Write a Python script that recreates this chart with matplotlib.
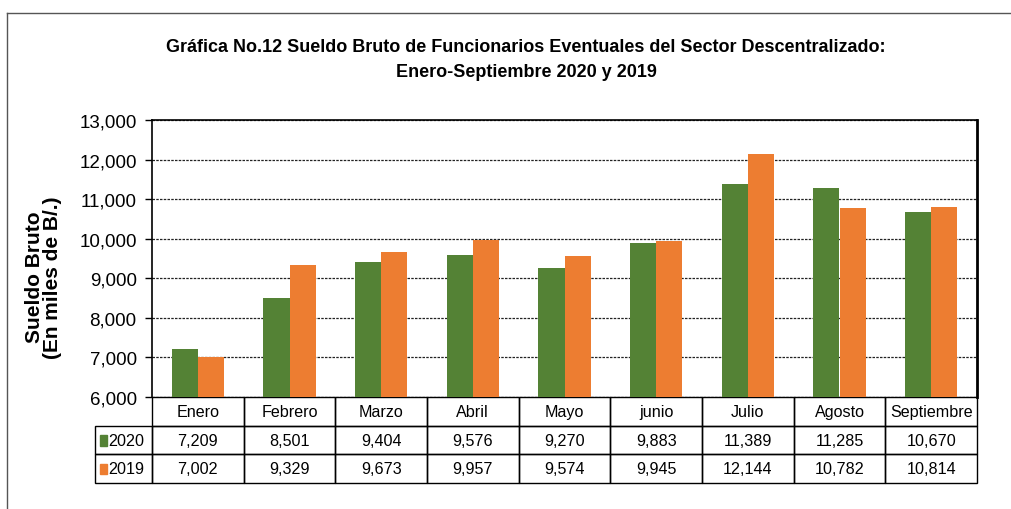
import matplotlib.pyplot as plt
from matplotlib.lines import Line2D
from matplotlib.patches import Rectangle
import numpy as np

plt.rcParams['font.family'] = ['Liberation Sans', 'DejaVu Sans']

meses = ['Enero', 'Febrero', 'Marzo', 'Abril', 'Mayo', 'junio', 'Julio', 'Agosto', 'Septiembre']
v2020 = [7209, 8501, 9404, 9576, 9270, 9883, 11389, 11285, 10670]
v2019 = [7002, 9329, 9673, 9957, 9574, 9945, 12144, 10782, 10814]
series = ['2020', '2019']
verde = '#548235'
naranja = '#ED7D31'

fig = plt.figure(figsize=(10.11, 5.10), dpi=100)
ax = fig.add_axes([152 / 1011, 1 - 398 / 510, 825 / 1011, 277 / 510])

x = np.arange(len(meses))
w = 0.284
ax.bar(x - w / 2, v2020, w, color=verde, zorder=3)
ax.bar(x + w / 2, v2019, w, color=naranja, zorder=3)

ax.set_xlim(-0.5, len(meses) - 0.5)
ax.set_ylim(6000, 13000)
ax.set_yticks(range(6000, 13001, 1000))
ax.set_yticklabels(['{:,}'.format(v) for v in range(6000, 13001, 1000)], fontsize=13.5)
ax.set_xticks([])
ax.tick_params(axis='y', length=5, width=1, direction='out', pad=6)
ax.yaxis.grid(True, linestyle=(0, (2, 1)), color='#222222', linewidth=0.9, zorder=0)
for s in ['left', 'top']:
    ax.spines[s].set_linewidth(1.2)
ax.spines['right'].set_linewidth(2)
ax.spines['bottom'].set_visible(False)

# tabla de datos
fila_h = 28.7 / 277
lbl_w = 57 / 825
filas = [meses,
         ['{:,}'.format(v) for v in v2020],
         ['{:,}'.format(v) for v in v2019]]
tr = ax.transAxes
for r, fila in enumerate(filas):
    y0 = -(r + 1) * fila_h
    for c, txt in enumerate(fila):
        x0 = c / len(meses)
        ax.add_patch(Rectangle((x0, y0), 1 / len(meses), fila_h, transform=tr,
                               fill=False, edgecolor='black', linewidth=1, clip_on=False))
        ax.text(x0 + 0.5 / len(meses), y0 + fila_h / 2, txt, transform=tr,
                ha='center', va='center', fontsize=11.6)
    if r > 0:
        ax.add_patch(Rectangle((-lbl_w, y0), lbl_w, fila_h, transform=tr,
                               fill=False, edgecolor='black', linewidth=1, clip_on=False))
        col = verde if r == 1 else naranja
        ax.add_patch(Rectangle((-lbl_w + 0.006, y0 + fila_h * 0.3), 0.0085, fila_h * 0.36,
                               transform=tr, color=col, clip_on=False))
        ax.text(-lbl_w + 0.016, y0 + fila_h / 2, series[r - 1], transform=tr,
                ha='left', va='center', fontsize=11.6)

fig.text(526 / 1011, 1 - 47 / 510, 'Gráfica No.12 Sueldo Bruto de Funcionarios Eventuales del Sector Descentralizado:',
         ha='center', va='center', fontsize=13, fontweight='bold')
fig.text(526 / 1011, 1 - 73 / 510, 'Enero-Septiembre 2020 y 2019',
         ha='center', va='center', fontsize=13, fontweight='bold')
fig.text(35 / 1011, 1 - 277 / 510, 'Sueldo Bruto', rotation=90,
         ha='center', va='center', fontsize=15, fontweight='bold')
fig.text(53 / 1011, 1 - 278 / 510, '(En miles de B/.)', rotation=90,
         ha='center', va='center', fontsize=15, fontweight='bold')

# marco del grafico
fig.add_artist(Line2D([7 / 1011, 1], [1 - 14 / 510, 1 - 14 / 510], color='#555555', linewidth=1))
fig.add_artist(Line2D([7 / 1011, 7 / 1011], [1 - 14 / 510, 0], color='#555555', linewidth=1))

fig.savefig('out.png', dpi=100)
